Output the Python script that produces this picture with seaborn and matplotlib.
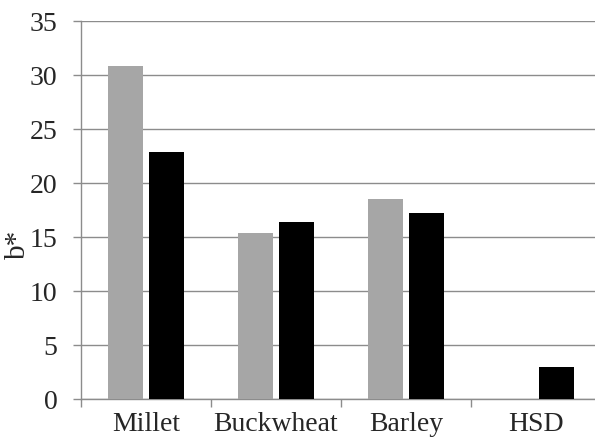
import pandas as pd
import numpy as np
import seaborn as sns
import matplotlib.pyplot as plt

# --- data
grains = ["Millet", "Buckwheat", "Barley", "HSD"]
series = ["A", "B"]
vals_a = [30.8, 15.4, 18.5, np.nan]
vals_b = [22.9, 16.4, 17.2, 2.95]
yticks = [0, 5, 10, 15, 20, 25, 30, 35]

palette = ["#A6A6A6", "#000000"]

df = pd.DataFrame({
    "grain": grains * 2,
    "series": [series[0]] * 4 + [series[1]] * 4,
    "b": vals_a + vals_b,
})

sns.set_style("white")
plt.rcParams['font.family'] = ['Liberation Serif', 'DejaVu Serif']

fig = plt.figure(figsize=(5.95, 4.44), dpi=100)
ax = fig.add_axes([81 / 595, 45 / 444, 520 / 595, 378 / 444])

sns.barplot(data=df, x="grain", y="b", hue="series", palette=palette,
            width=0.64, gap=0.16, ax=ax, legend=False, zorder=3,
            edgecolor="none")

ax.set_ylim(0, 35)
ax.set_yticks(yticks)
ax.set_xlim(-0.5, 3.5)
ax.yaxis.grid(True, color="#8c8c8c", linewidth=1.0, zorder=0)
ax.set_axisbelow(True)

for s in ["top", "right"]:
    ax.spines[s].set_visible(False)
for s in ["left", "bottom"]:
    ax.spines[s].set_color("#8c8c8c")
    ax.spines[s].set_linewidth(1.0)

ax.set_xticks(np.arange(len(grains)))
ax.set_xticklabels(grains)
ax.set_xticks(np.arange(len(grains) + 1) - 0.5, minor=True)
ax.tick_params(axis="x", which="major", length=0, pad=9, labelsize=20)
ax.tick_params(axis="x", which="minor", length=6, width=1, color="#8c8c8c", direction="out", bottom=True)
ax.tick_params(axis="y", length=6, width=1, color="#8c8c8c", direction="out", left=True, pad=11, labelsize=20)

ax.set_xlabel("")
ax.set_ylabel("b*", fontsize=21)
# excel puts the title a bit below the middle of the axis
ax.yaxis.set_label_coords(-0.096, 0.41)

fig.savefig("out.png", dpi=100)
